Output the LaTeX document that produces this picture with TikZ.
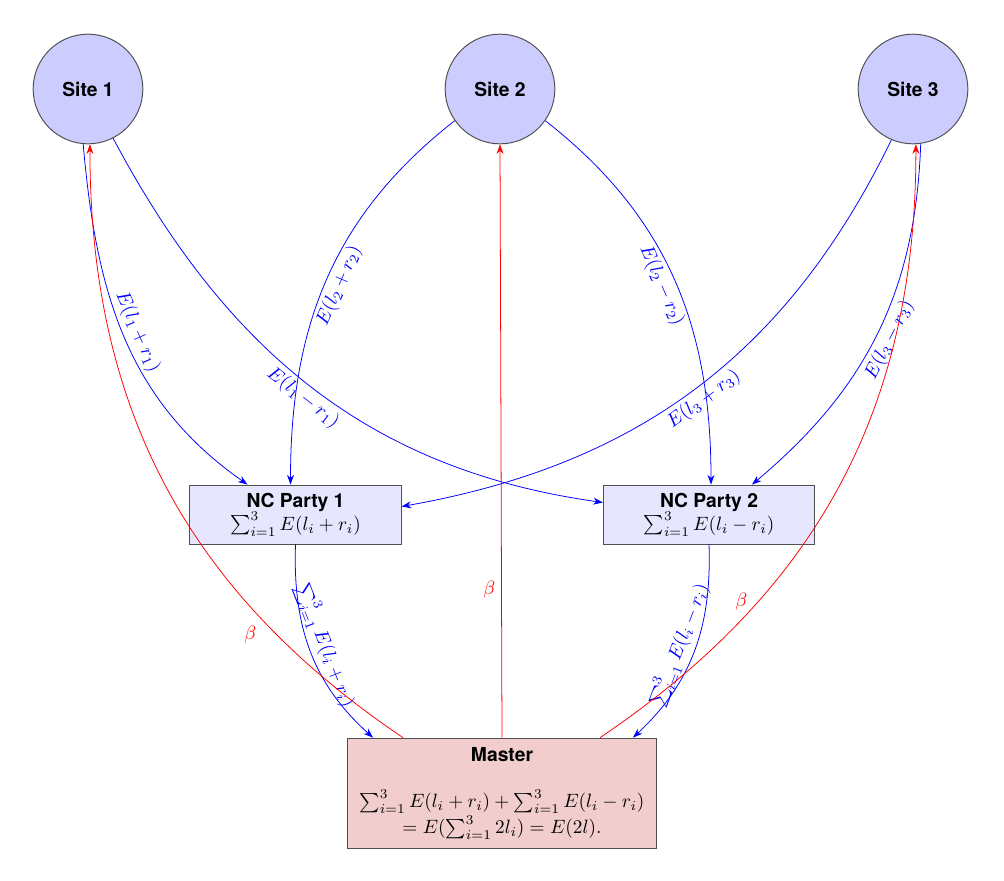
\documentclass[tikz,border=0pt]{standalone}
\usepackage{fontspec}
\setsansfont{TeX Gyre Heros}
\usetikzlibrary{arrows.meta,calc}
\definecolor{sitefill}{RGB}{204,204,255}
\definecolor{ncfill}{RGB}{230,230,255}
\definecolor{masterfill}{RGB}{241,205,205}
\definecolor{frame}{RGB}{80,80,80}
\begin{document}
\begin{tikzpicture}[x=0.01823cm,y=-0.01823cm,
  site/.style={circle,draw=frame,line width=0.5pt,fill=sitefill,minimum size=2.0cm,inner sep=0pt,font=\sffamily\bfseries},
  party/.style={rectangle,draw=frame,line width=0.5pt,fill=ncfill,minimum width=3.85cm,minimum height=1.075cm,inner sep=1pt,align=center},
  master/.style={rectangle,draw=frame,line width=0.5pt,fill=masterfill,minimum width=5.65cm,minimum height=2.02cm,inner sep=2pt,align=center},
  share/.style={blue,-{Stealth[length=5pt,width=3.6pt]}},
  reply/.style={red,-{Stealth[length=5pt,width=3.6pt]}},
  lab/.style={blue,sloped,inner sep=2pt},
  blab/.style={red,inner sep=3pt}]
\useasboundingbox (0,0) rectangle (1004,880);

% data holders
\node[site] (s1) at (88,89) {Site 1};
\node[site] (s2) at (500,89) {Site 2};
\node[site] (s3) at (913,89) {Site 3};

% non-colluding parties
\node[party] (p1) at (295.5,514.5) {\textsf{\bfseries NC Party 1}\\ $\sum_{i=1}^3 E(l_i+r_i)$};
\node[party] (p2) at (709,514.5) {\textsf{\bfseries NC Party 2}\\ $\sum_{i=1}^3 E(l_i-r_i)$};

% master
\node[master] (m) at (502,793.5) {\textsf{\bfseries Master}\\[12pt]
  $\sum_{i=1}^3 E(l_i+r_i)+\sum_{i=1}^3 E(l_i-r_i)$\\
  $=E(\sum_{i=1}^3 2l_i)=E(2l).$};

% encrypted shares from the sites
\draw[share] (s1.-95) to[out=-85,in=145] node[lab,above,pos=0.5]{$E(l_1+r_1)$} ($(p1.north)+(-48,0)$);
\draw[share] (s1.-63) to[out=-62,in=172] node[lab,below,pos=0.5]{$E(l_1-r_1)$} ($(p2.west)+(0,-12)$);
\draw[share] (s2.-145) to[out=-142,in=90] node[lab,below,pos=0.5]{$E(l_2+r_2)$} ($(p1.north)+(-5,0)$);
\draw[share] (s2.-35) to[out=-38,in=90] node[lab,below,pos=0.5]{$E(l_2-r_2)$} ($(p2.north)+(2,0)$);
\draw[share] (s3.-113) to[out=-116,in=10] node[lab,below,pos=0.5]{$E(l_3+r_3)$} ($(p1.east)+(0,-8)$);
\draw[share] (s3.-82) to[out=-92,in=40] node[lab,below,pos=0.5]{$E(l_3-r_3)$} ($(p2.north)+(43,0)$);

% aggregated sums to the master
\draw[share] (p1.south) to[out=-92,in=138] node[lab,above,pos=0.5]{$\sum_{i=1}^3 E(l_i+r_i)$} ($(m.north)+(-129,0)$);
\draw[share] (p2.south) to[out=-88,in=43] node[lab,above,pos=0.5]{$\sum_{i=1}^3 E(l_i-r_i)$} ($(m.north)+(131,0)$);

% beta back to the sites
\draw[reply] ($(m.north)+(-99,0)$) to[out=146,in=-90] node[blab,below left,pos=0.25]{$\beta$} (s1.-88);
\draw[reply] (m.north) -- node[blab,left,pos=0.25]{$\beta$} (s2.south);
\draw[reply] ($(m.north)+(98,0)$) to[out=34,in=-90] node[blab,above=2pt,pos=0.25]{$\beta$} (s3.-87);
\end{tikzpicture}
\end{document}
